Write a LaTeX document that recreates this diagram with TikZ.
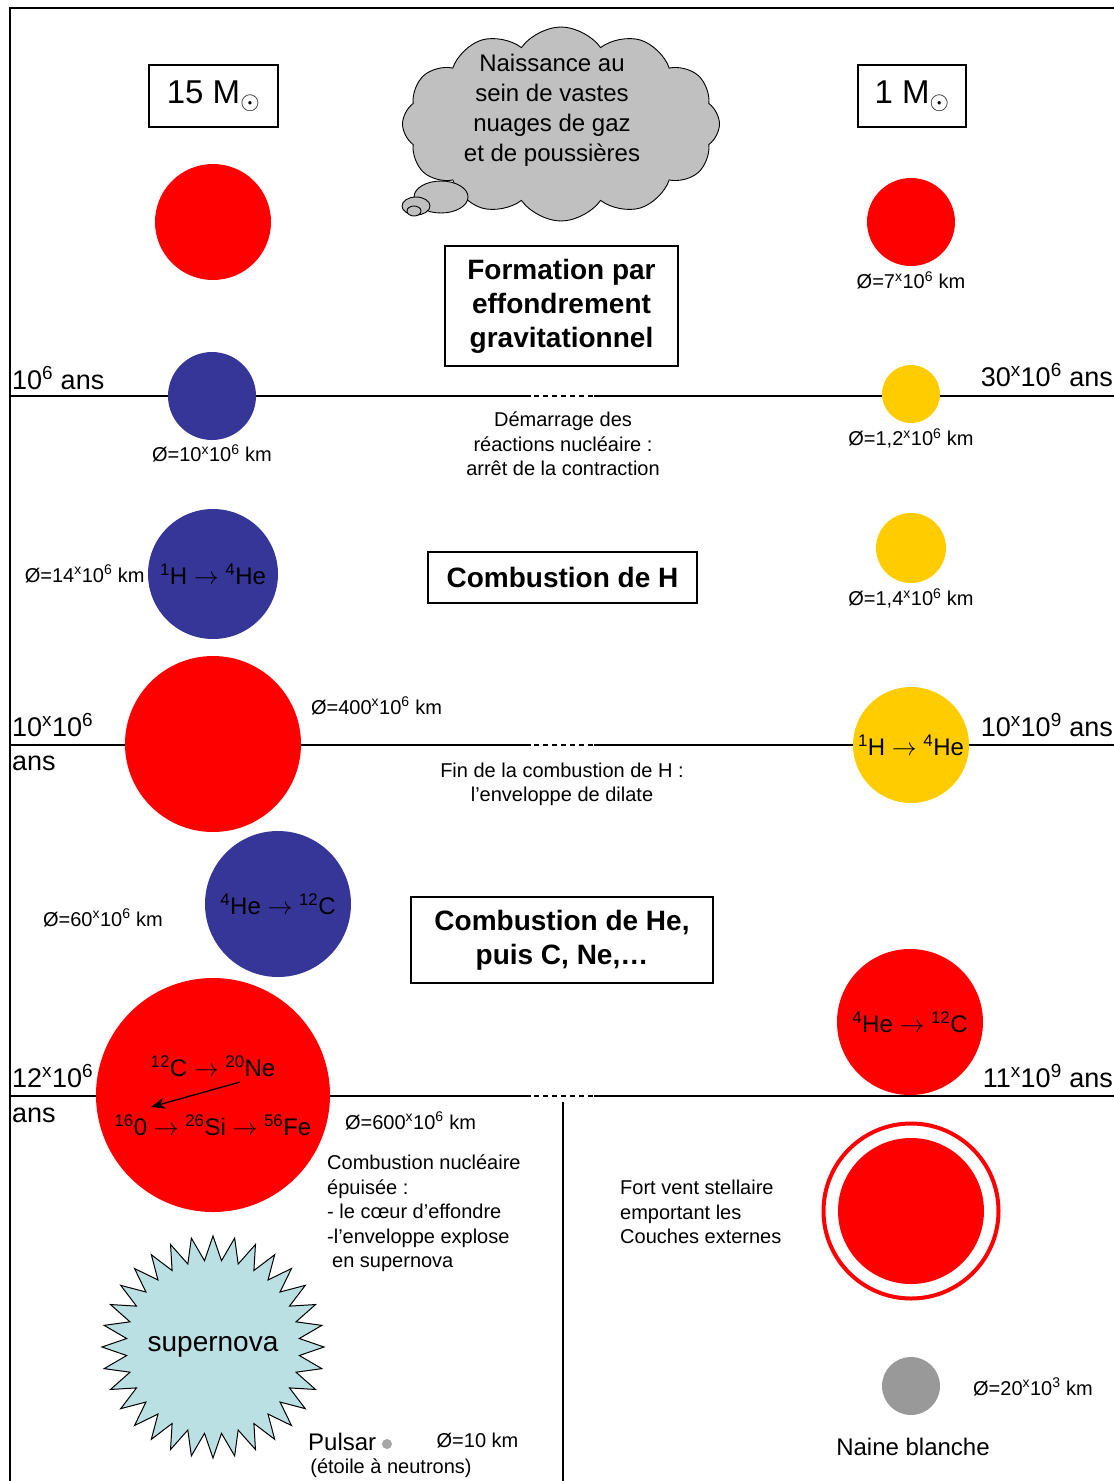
\documentclass[tikz,border=0pt]{standalone}
\usepackage{fontspec}
\setmainfont{Liberation Sans}
\usetikzlibrary{arrows.meta,positioning,shapes.geometric,shapes.symbols}
\definecolor{starred}{HTML}{FF0000}
\definecolor{starblue}{HTML}{363698}
\definecolor{staryellow}{HTML}{FFCC00}
\definecolor{cloudgray}{HTML}{C0C0C0}
\definecolor{dwarfgray}{HTML}{999999}
\definecolor{pulsargray}{HTML}{A6A6A6}
\definecolor{novablue}{HTML}{BBE0E3}
\newcommand\pw[1]{\textsuperscript{#1}}
\newcommand\mul{\textsuperscript{x}}
\tikzset{
  framelines/.style={line width=1.6pt},
  timeline/.style={line width=1.2pt},
  massbox/.style={rectangle, draw, line width=1.4pt,
    minimum height=62pt, font=\fontsize{33}{36}\selectfont},
  stagebox/.style={rectangle, draw, line width=1.4pt,
    font=\bfseries\fontsize{28}{34}\selectfont, align=center},
  orb/.style={circle, fill=#1, draw=none, inner sep=0pt},
  orb/.default=starred,
  fusion/.style={font=\fontsize{24}{28}\selectfont},
  lbl/.style={font=\fontsize{20}{24.5}\selectfont, inner sep=1pt, align=center},
  age/.style={font=\fontsize{27}{34}\selectfont, inner sep=0pt},
  thought/.style={draw, line width=0.9pt, fill=cloudgray},
}
\begin{document}
\begin{tikzpicture}[x=1pt, y=-1pt]
\useasboundingbox (0,0) rectangle (1114,1481);
% frame and time lines
\draw[framelines] (10,1481) -- (10,8) -- (1114,8);
\foreach \yy in {396,745,1096}{
  \draw[timeline] (10,\yy) -- (531,\yy);
  \draw[timeline, dash pattern=on 5pt off 4pt] (534,\yy) -- (594,\yy);
  \draw[timeline] (594,\yy) -- (1114,\yy);
}
\draw[timeline] (563,1102) -- (563,1481);

% masses
\node[massbox, minimum width=129pt] (m15) at (213.5,96) {15 M\textsubscript{$\odot$}};
\node[massbox, minimum width=108pt] (m1) at (912,96) {1 M\textsubscript{$\odot$}};

% birth cloud
\node[cloud, cloud puffs=12, cloud puff arc=110, cloud ignores aspect,
      draw, line width=0.9pt, fill=cloudgray, minimum width=317pt, minimum height=194pt] (birth) at (561,124) {};
\draw[thought] (441,197) ellipse [x radius=27, y radius=16];
\draw[thought] (416,206) ellipse [x radius=14, y radius=9];
\draw[thought] (414,211) ellipse [x radius=7, y radius=5];
\node[font=\fontsize{24}{30}\selectfont, align=center] (birth-txt) at (552,110)
  {Naissance au\\sein de vastes\\nuages de gaz\\et de poussières};

% stages
\node[stagebox, minimum width=233pt, minimum height=120pt] (formation) at (561.5,306)
  {Formation par\\effondrement\\gravitationnel};
\node[stagebox, minimum width=269pt, minimum height=51pt] (hburn) at (562.5,577.5) {Combustion de H};
\node[stagebox, minimum width=302pt, minimum height=86pt] (heburn) at (562,940) {Combustion de He,\\puis C, Ne,…};
\node[lbl] (start-txt) at (563,444) {Démarrage des\\réactions nucléaire :\\arrêt de la contraction};
\node[lbl] (endh-txt) at (562,784.5) {Fin de la combustion de H :\\l’enveloppe de dilate};

% ages
\node[age, anchor=base west] (age-hv1) at (12,389) {10\pw{6} ans};
\node[age, anchor=base east] (age-lt1) at (1113,386) {30\mul10\pw{6} ans};
\node[age, anchor=base west] (age-hv2) at (12,736) {10\mul10\pw{6}};
\node[age, anchor=base west] (age-hv2b) at (12,770) {ans};
\node[age, anchor=base east] (age-lt2) at (1113,736) {10\mul10\pw{9} ans};
\node[age, anchor=base west] (age-hv3) at (12,1087) {12\mul10\pw{6}};
\node[age, anchor=base west] (age-hv3b) at (12,1122) {ans};
\node[age, anchor=base east] (age-lt3) at (1113,1087) {11\mul10\pw{9} ans};

% 15 solar masses
\node[orb=starred, minimum size=116pt] (hv1) at (213,222) {};
\node[orb=starblue, minimum size=88pt] (hv2) at (212,396) {};
\node[lbl, below=3pt of hv2] (hv2-d) {Ø=10\mul10\pw{6} km};
\node[orb=starblue, minimum size=130pt, fusion] (hv3) at (213,574) {\pw{1}H $\rightarrow$ \pw{4}He};
\node[lbl, left=2pt of hv3] (hv3-d) {Ø=14\mul10\pw{6} km};
\node[orb=starred, minimum size=176pt] (hv4) at (213,744) {};
\node[lbl] (hv4-d) at (376.5,706) {Ø=400\mul10\pw{6} km};
\node[orb=starblue, minimum size=146pt, fusion] (hv5) at (278,904) {\pw{4}He $\rightarrow$ \pw{12}C};
\node[lbl] (hv5-d) at (103,918) {Ø=60\mul10\pw{6} km};
\node[orb=starred, minimum size=234pt] (hv6) at (213,1095) {};
\node[fusion] (hv6-c) at (213,1066) {\pw{12}C $\rightarrow$ \pw{20}Ne};
\node[fusion] (hv6-o) at (213,1125) {\pw{16}0 $\rightarrow$ \pw{26}Si $\rightarrow$ \pw{56}Fe};
\coordinate (fuse-a) at (240,1082);
\coordinate (fuse-b) at (151,1107);
\draw[-{Stealth[length=14pt, width=11pt]}, line width=1.3pt] (fuse-a) -- (fuse-b);
\node[lbl] (hv6-d) at (410.5,1121) {Ø=600\mul10\pw{6} km};
\node[lbl, align=left, anchor=north west] (collapse-txt) at (326,1154)
  {Combustion nucléaire\\épuisée :\\- le cœur d’effondre\\-l’enveloppe explose\\\hspace{0.25em}en supernova};
\node[star, star points=32, star point ratio=1.28, draw, line width=1pt, fill=novablue,
      minimum size=222pt, inner sep=0pt,
      label={[font=\fontsize{28}{30}\selectfont]center:supernova}] (nova) at (213,1347) {};
\node[font=\fontsize{24}{28}\selectfont, inner sep=0pt, anchor=base west] (pulsar) at (308,1450) {Pulsar};
\node[orb=pulsargray, minimum size=10pt] (pulsar-dot) at (387,1444) {};
\node[lbl] (pulsar-d) at (477.5,1440) {Ø=10 km};
\node[lbl] (pulsar-sub) at (391,1468) {(étoile à neutrons)};

% 1 solar mass
\node[orb=starred, minimum size=88pt] (lt1) at (911,222) {};
\node[lbl, below=4pt of lt1] (lt1-d) {Ø=7\mul10\pw{6} km};
\node[orb=staryellow, minimum size=58pt] (lt2) at (911,394) {};
\node[lbl, below=4pt of lt2] (lt2-d) {Ø=1,2\mul10\pw{6} km};
\node[orb=staryellow, minimum size=70pt] (lt3) at (911,548) {};
\node[lbl, below=4pt of lt3] (lt3-d) {Ø=1,4\mul10\pw{6} km};
\node[orb=staryellow, minimum size=116pt, fusion] (lt4) at (911,745) {\pw{1}H $\rightarrow$ \pw{4}He};
\node[orb=starred, minimum size=146pt, fusion] (lt5) at (910,1022) {\pw{4}He $\rightarrow$ \pw{12}C};
\node[circle, draw=starred, line width=4pt, minimum size=175pt, inner sep=0pt] (lt6-wind) at (911,1211) {};
\node[orb=starred, minimum size=146pt] (lt6) at (911,1211) {};
\node[lbl, align=left, anchor=west] (wind-txt) at (619,1212) {Fort vent stellaire\\emportant les\\Couches externes};
\node[orb=dwarfgray, minimum size=58pt] (lt7) at (911,1386) {};
\node[lbl] (lt7-d) at (1033,1387) {Ø=20\mul10\pw{3} km};
\node[font=\fontsize{24}{28}\selectfont] (lt7-name) at (913,1447) {Naine blanche};
\end{tikzpicture}
\end{document}
